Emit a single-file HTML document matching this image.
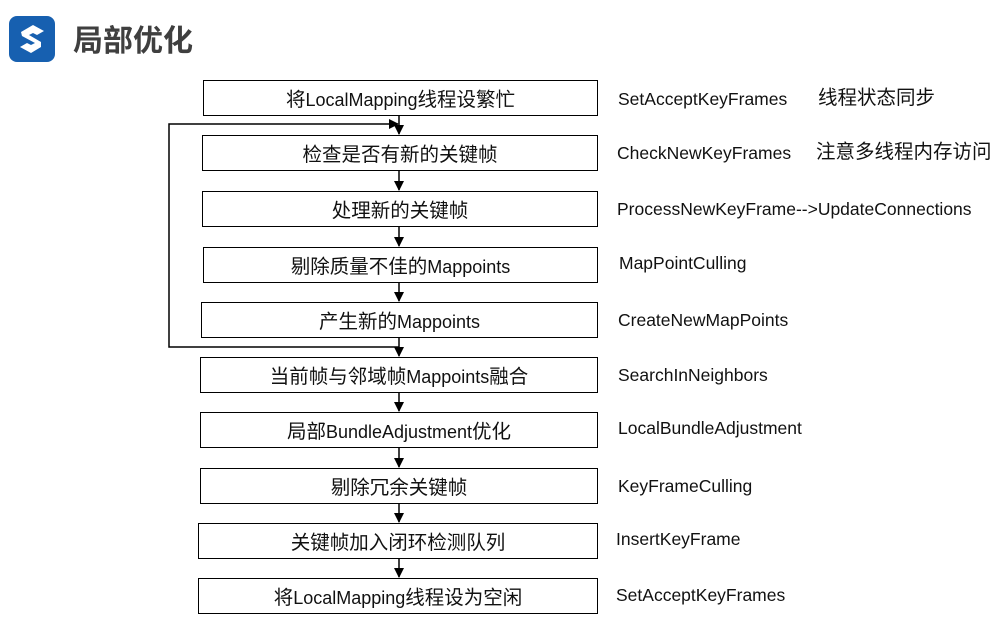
<!DOCTYPE html>
<html><head><meta charset="utf-8"><style>
body{margin:0;width:1005px;height:634px;background:#fff;position:relative;overflow:hidden;font-family:"Liberation Sans","Noto Sans CJK SC",sans-serif;}
.b{position:absolute;border:1.5px solid #000;box-sizing:border-box;text-align:center;line-height:33px;padding-top:3px;font-size:18px;color:#111;white-space:nowrap;}
.b span{line-height:20px;}
.t{position:absolute;font-size:17.5px;color:#111;white-space:nowrap;line-height:20px;}
.c{font-size:19.5px;}
</style></head><body>
<div style="position:absolute;left:9px;top:16px;width:46px;height:46px;border-radius:8px;background:#1760b0;"></div>
<svg style="position:absolute;left:9px;top:16px" width="46" height="46" viewBox="0 0 46 46">
<path d="M12 16 L24 9 L35 15 L28 19 L24 17 L20 19 L32 26 L32 31 L22 37 L11 31 L18 27 L22 29 L26 27 L13 20 Z" fill="#fff"/>
</svg>
<div style="position:absolute;left:73px;top:18px;font-size:30px;font-weight:bold;color:#3f3f3f;font-family:'Noto Sans CJK SC',sans-serif;line-height:40px;">局部优化</div>

<div class="b" style="left:203px;top:80px;width:395px;height:36px"><span class="c">将</span>LocalMapping<span class="c">线程设繁忙</span></div>
<div class="b c" style="left:202px;top:135px;width:396px;height:36px">检查是否有新的关键帧</div>
<div class="b c" style="left:202px;top:191px;width:396px;height:36px">处理新的关键帧</div>
<div class="b" style="left:203px;top:247px;width:395px;height:36px"><span class="c">剔除质量不佳的</span>Mappoints</div>
<div class="b" style="left:201px;top:302px;width:397px;height:36px"><span class="c">产生新的</span>Mappoints</div>
<div class="b" style="left:200px;top:357px;width:398px;height:36px"><span class="c">当前帧与邻域帧</span>Mappoints<span class="c">融合</span></div>
<div class="b" style="left:200px;top:412px;width:398px;height:36px"><span class="c">局部</span>BundleAdjustment<span class="c">优化</span></div>
<div class="b c" style="left:200px;top:468px;width:398px;height:36px">剔除冗余关键帧</div>
<div class="b c" style="left:198px;top:523px;width:400px;height:36px">关键帧加入闭环检测队列</div>
<div class="b" style="left:198px;top:578px;width:400px;height:36px"><span class="c">将</span>LocalMapping<span class="c">线程设为空闲</span></div>

<svg style="position:absolute;left:0;top:0" width="1005" height="634">
<defs><marker id="a" markerWidth="10" markerHeight="10" refX="9" refY="5" orient="auto" markerUnits="userSpaceOnUse"><path d="M0 0 L10 5 L0 10 Z" fill="#000"/></marker></defs>
<g stroke="#000" stroke-width="1.5" fill="none">
<line x1="399" y1="116" x2="399" y2="134" marker-end="url(#a)"/>
<line x1="399" y1="171" x2="399" y2="190" marker-end="url(#a)"/>
<line x1="399" y1="227" x2="399" y2="246" marker-end="url(#a)"/>
<line x1="399" y1="283" x2="399" y2="301" marker-end="url(#a)"/>
<line x1="399" y1="338" x2="399" y2="356" marker-end="url(#a)"/>
<line x1="399" y1="393" x2="399" y2="411" marker-end="url(#a)"/>
<line x1="399" y1="448" x2="399" y2="467" marker-end="url(#a)"/>
<line x1="399" y1="504" x2="399" y2="522" marker-end="url(#a)"/>
<line x1="399" y1="559" x2="399" y2="577" marker-end="url(#a)"/>
<polyline points="399,347 169,347 169,124 398,124" marker-end="url(#a)"/>
</g></svg>

<div class="t" style="left:618px;top:89px">SetAcceptKeyFrames</div>
<div class="t c" style="left:818px;top:88px">线程状态同步</div>
<div class="t" style="left:617px;top:143px">CheckNewKeyFrames</div>
<div class="t c" style="left:816px;top:142px">注意多线程内存访问</div>
<div class="t" style="left:617px;top:199px">ProcessNewKeyFrame--&gt;UpdateConnections</div>
<div class="t" style="left:619px;top:253px">MapPointCulling</div>
<div class="t" style="left:618px;top:310px">CreateNewMapPoints</div>
<div class="t" style="left:618px;top:365px">SearchInNeighbors</div>
<div class="t" style="left:618px;top:418px">LocalBundleAdjustment</div>
<div class="t" style="left:618px;top:476px">KeyFrameCulling</div>
<div class="t" style="left:616px;top:529px">InsertKeyFrame</div>
<div class="t" style="left:616px;top:585px">SetAcceptKeyFrames</div>
</body></html>
